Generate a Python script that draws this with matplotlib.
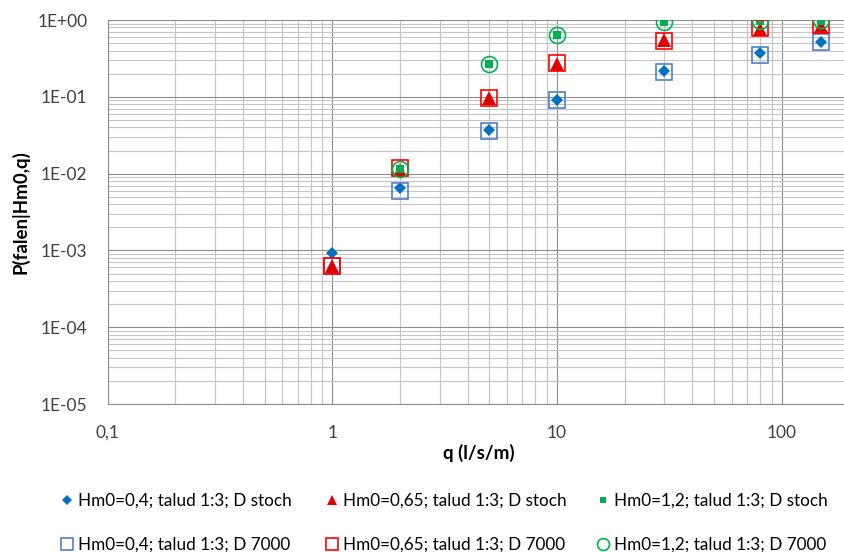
import numpy as np
from matplotlib import pyplot as plt
from matplotlib.ticker import LogLocator, FixedLocator, FuncFormatter, NullFormatter

plt.rcParams['font.family'] = ['Lato', 'DejaVu Sans']

# afvoer q (l/s/m)
q = [1, 2, 5, 10, 30, 80, 150]
q_green = [2, 5, 10, 30, 80, 150]

# P(falen|Hm0,q) per reeks
p_04_stoch = [0.00092, 0.0066, 0.037, 0.091, 0.215, 0.37, 0.51]
p_065_stoch = [0.00062, 0.0112, 0.098, 0.27, 0.55, 0.77, 0.83]
p_12_stoch = [0.0116, 0.27, 0.64, 0.93, 0.98, 0.98]
p_04_7000 = [0.00062, 0.0059, 0.036, 0.092, 0.21, 0.35, 0.51]
p_065_7000 = [0.00062, 0.0118, 0.098, 0.275, 0.54, 0.78, 0.86]
p_12_7000 = [0.0116, 0.268, 0.63, 0.93, 0.985, 0.99]

labels = ['Hm0=0,4; talud 1:3; D stoch', 'Hm0=0,65; talud 1:3; D stoch',
          'Hm0=1,2; talud 1:3; D stoch', 'Hm0=0,4; talud 1:3; D 7000',
          'Hm0=0,65; talud 1:3; D 7000', 'Hm0=1,2; talud 1:3; D 7000']

blue = '#0070C0'
blue_open = '#4F81C6'
red = '#FF0000'
red_fill = '#E00000'
green = '#00B050'

fig = plt.figure(figsize=(8.44, 5.52), dpi=100)
ax = fig.add_axes([0.1275, 0.268, 0.879, 0.6957])
ax.set_xscale('log')
ax.set_yscale('log')
ax.set_xlim(0.1, 200)
ax.set_ylim(1e-5, 1)

h1, = ax.plot(q, p_04_stoch, 'D', ms=6.5, color=blue, mew=0, ls='none', zorder=3)
h2, = ax.plot(q, p_065_stoch, '^', ms=9.5, color=red_fill, mew=0, ls='none', zorder=3)
h3, = ax.plot(q_green, p_12_stoch, 's', ms=5.5, color=green, mew=0, ls='none', zorder=3)
h4, = ax.plot(q, p_04_7000, 's', ms=11, mfc='none', mec=blue_open, mew=1.2, ls='none', zorder=4)
h5, = ax.plot(q, p_065_7000, 's', ms=12, mfc='none', mec=red, mew=1.2, ls='none', zorder=4)
h6, = ax.plot(q_green, p_12_7000, 'o', ms=11.5, mfc='none', mec=green, mew=1.2, ls='none', zorder=4)

# gridlijnen zoals in Excel
ax.xaxis.set_major_locator(FixedLocator([0.1, 1, 10, 100]))
ax.xaxis.set_minor_locator(LogLocator(base=10, subs=np.arange(2, 10)))
ax.yaxis.set_major_locator(FixedLocator([1e-5, 1e-4, 1e-3, 1e-2, 1e-1, 1]))
ax.yaxis.set_minor_locator(LogLocator(base=10, subs=np.arange(2, 10), numticks=20))
ax.xaxis.set_minor_formatter(NullFormatter())
ax.yaxis.set_minor_formatter(NullFormatter())
ax.xaxis.set_major_formatter(FuncFormatter(
    lambda v, p: ('%g' % v).replace('.', ',')))
ax.yaxis.set_major_formatter(FuncFormatter(
    lambda v, p: '1E%+03d' % int(round(np.log10(v)))))
ax.grid(which='major', color='#8C8C8C', lw=0.8)
ax.grid(which='minor', color='#C4C4C4', lw=0.8)
ax.set_axisbelow(True)
ax.tick_params(which='both', length=0, labelsize=12.5, colors='#404040')
ax.tick_params(axis='x', pad=15)
ax.tick_params(axis='y', pad=14.5)
for s in ['top', 'right']:
    ax.spines[s].set_visible(False)
for s in ['left', 'bottom']:
    ax.spines[s].set_color('#8C8C8C')
    ax.spines[s].set_linewidth(0.8)

ax.set_xlabel('q (l/s/m)', fontsize=13.5, fontweight='bold', labelpad=2.5)
ax.set_ylabel('P(falen|Hm0,q)', fontsize=13.5, fontweight='bold', labelpad=5.5)

# legenda: drie kolommen van twee
cols = [(h1, h4, 0, 3, 0.073), (h2, h5, 1, 4, 0.387), (h3, h6, 2, 5, 0.708)]
for ha, hb, ia, ib, x in cols:
    fig.legend([ha, hb], [labels[ia], labels[ib]], loc='upper left',
               bbox_to_anchor=(x, 0.1078), bbox_transform=fig.transFigure,
               frameon=False, fontsize=12.3, markerscale=0.75, handlelength=0.6,
               handletextpad=0.35, labelspacing=1.65, borderpad=0, borderaxespad=0)

fig.savefig('out.png', dpi=100)
